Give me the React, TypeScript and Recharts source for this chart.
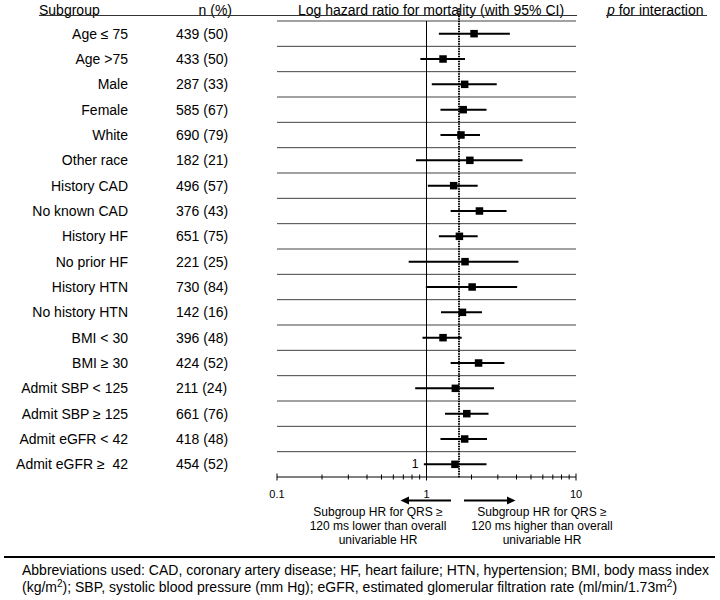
import React from "react";
import { ScatterChart, Scatter, XAxis, YAxis, ErrorBar, ReferenceLine } from "recharts";

const subgroups = [
  "Age ≤ 75", "Age >75", "Male", "Female", "White", "Other race",
  "History CAD", "No known CAD", "History HF", "No prior HF", "History HTN", "No history HTN",
  "BMI < 30", "BMI ≥ 30", "Admit SBP < 125", "Admit SBP ≥ 125", "Admit eGFR < 42", "Admit eGFR ≥\u00a0 42",
];
const counts = [
  "439 (50)", "433 (50)", "287 (33)", "585 (67)", "690 (79)", "182 (21)",
  "496 (57)", "376 (43)", "651 (75)", "221 (25)", "730 (84)", "142 (16)",
  "396 (48)", "424 (52)", "211 (24)", "661 (76)", "418 (48)", "454 (52)",
];
const hazardRatios = [2.08, 1.29, 1.8, 1.76, 1.7, 1.95, 1.52, 2.26, 1.66, 1.81, 2.02, 1.74, 1.29, 2.23, 1.56, 1.86, 1.8, 1.55];
const ciLower = [1.21, 0.91, 1.085, 1.24, 1.24, 0.85, 1.02, 1.45, 1.21, 0.76, 0.99, 1.25, 0.94, 1.45, 0.84, 1.33, 1.24, 0.96];
const ciUpper = [3.61, 1.81, 2.95, 2.52, 2.28, 4.39, 2.2, 3.43, 2.2, 4.12, 4.04, 2.35, 1.72, 3.32, 2.83, 2.6, 2.54, 2.52];
// p for interaction, one per pair of subgroups
const interactionP = [".01", ".73", ".91", ".18", ".21", ".26", ".05", ".24", ".70"];
const overallHR = 1.65;
const axisTicks = [0.1, 0.2, 0.3, 0.4, 0.5, 0.6, 0.7, 0.8, 0.9, 1, 2, 3, 4, 5, 6, 7, 8, 9, 10];
const majorTicks = [0.1, 1, 10];

const FONT = "'Liberation Sans', Arial, sans-serif";

const rows = subgroups.map((name, i) => ({
  row: i + 0.5,
  hr: hazardRatios[i],
  ci: [hazardRatios[i] - ciLower[i], ciUpper[i] - hazardRatios[i]],
}));
const rowTicks = subgroups.map((_, i) => i + 0.5);
const pTicks = interactionP.map((_, i) => i * 2 + 0.5);
const separators = subgroups.map((_, i) => i);

const LeftTick = (props: any) => {
  const i = Math.floor(props.payload.value);
  const y = props.y + 5;
  return (
    <g fontFamily={FONT} fontSize={14} fill="#000">
      <text x={128} y={y} textAnchor="end">{subgroups[i]}</text>
      <text x={176} y={y}>{counts[i]}</text>
    </g>
  );
};

const RightTick = (props: any) => {
  const i = Math.floor(props.payload.value / 2);
  return (
    <text x={674} y={props.y + 5} textAnchor="end" fontFamily={FONT} fontSize={14} fill="#000">
      {interactionP[i]}
    </text>
  );
};

const HrTick = (props: any) => {
  const { x, y, payload } = props;
  const major = majorTicks.includes(payload.value);
  const h = major ? 3.5 : 2.5;
  return (
    <g>
      <line x1={x} x2={x} y1={y - h} y2={y + h} stroke="#000" strokeWidth={1} />
      {major && (
        <text x={x} y={y + 21} textAnchor="middle" fontFamily={FONT} fontSize={11} fill="#000">
          {payload.value}
        </text>
      )}
    </g>
  );
};

const Square = (props: any) => (
  <rect x={props.cx - 3.75} y={props.cy - 3.75} width={7.5} height={7.5} fill="#000" />
);

const Annotations = () => (
  <g fontFamily={FONT} fill="#000">
    <text x={39} y={15} fontSize={14}>Subgroup</text>
    <text x={232} y={15} fontSize={14} textAnchor="end">n (%)</text>
    <text x={431} y={15} fontSize={14} textAnchor="middle">Log hazard ratio for mortality (with 95% CI)</text>
    <text x={607} y={15} fontSize={14}>
      <tspan fontStyle="italic">p</tspan> for interaction
    </text>
    <line x1={39} x2={577} y1={15.5} y2={15.5} stroke="#333" strokeWidth={1} />
    <line x1={606} x2={707} y1={15.5} y2={15.5} stroke="#333" strokeWidth={1} />

    <text x={415} y={467.5} fontSize={12} textAnchor="middle">1</text>

    <line x1={451} x2={408} y1={500.5} y2={500.5} stroke="#000" strokeWidth={2} />
    <polygon points="400.5,500.5 409,496.5 409,504.5" fill="#000" />
    <line x1={464} x2={507} y1={500.5} y2={500.5} stroke="#000" strokeWidth={2} />
    <polygon points="515.5,500.5 507,496.5 507,504.5" fill="#000" />

    <g fontSize={12} textAnchor="middle">
      <text x={378} y={516}>Subgroup HR for QRS ≥</text>
      <text x={378} y={530}>120 ms lower than overall</text>
      <text x={378} y={543.5}>univariable HR</text>
      <text x={542} y={516}>Subgroup HR for QRS ≥</text>
      <text x={542} y={530}>120 ms higher than overall</text>
      <text x={542} y={543.5}>univariable HR</text>
    </g>

    <line x1={4} x2={715} y1={557} y2={557} stroke="#000" strokeWidth={2} />
    <text x={22} y={575} fontSize={14}>
      Abbreviations used: CAD, coronary artery disease; HF, heart failure; HTN, hypertension; BMI, body mass index
    </text>
    <text x={22} y={592} fontSize={14}>
      (kg/m<tspan fontSize={10} dy={-5}>2</tspan>
      <tspan dy={5}>); SBP, systolic blood pressure (mm Hg); eGFR, estimated glomerular filtration rate (ml/min/1.73m</tspan>
      <tspan fontSize={10} dy={-5}>2</tspan>
      <tspan dy={5}>)</tspan>
    </text>
  </g>
);

export default function App() {
  return (
    <div style={{ width: 720, height: 600, background: "#fff" }}>
      <style>{`body{margin:0}`}</style>
      <ScatterChart width={720} height={600} margin={{ top: 21, right: 0, bottom: 93, left: 0 }}>
        <XAxis
          type="number"
          dataKey="hr"
          scale="log"
          domain={[0.1, 10]}
          ticks={axisTicks}
          interval={0}
          height={30}
          tickSize={0}
          tickMargin={0}
          tickLine={false}
          axisLine={{ stroke: "#000", strokeWidth: 1 }}
          tick={<HrTick />}
          allowDataOverflow
        />
        <YAxis
          yAxisId="left"
          type="number"
          dataKey="row"
          domain={[0, 18]}
          reversed
          width={277}
          ticks={rowTicks}
          interval={0}
          axisLine={false}
          tickLine={false}
          tick={<LeftTick />}
        />
        <YAxis
          yAxisId="right"
          orientation="right"
          type="number"
          domain={[0, 18]}
          reversed
          width={144}
          ticks={pTicks}
          interval={0}
          axisLine={false}
          tickLine={false}
          tick={<RightTick />}
        />
        {separators.map((s) => (
          <ReferenceLine key={s} yAxisId="left" y={s} stroke="#444" strokeWidth={1} />
        ))}
        <ReferenceLine yAxisId="left" x={1} stroke="#000" strokeWidth={1} />
        <ReferenceLine
          yAxisId="left"
          segment={[{ x: overallHR, y: -0.5 }, { x: overallHR, y: 18.05 }]}
          ifOverflow="visible"
          stroke="#000"
          strokeWidth={2}
          strokeDasharray="1.5 1"
        />
        <Scatter yAxisId="left" data={rows} shape={<Square />} isAnimationActive={false}>
          <ErrorBar dataKey="ci" direction="x" width={0} stroke="#000" strokeWidth={2} isAnimationActive={false} />
        </Scatter>
        <Annotations />
      </ScatterChart>
    </div>
  );
}
